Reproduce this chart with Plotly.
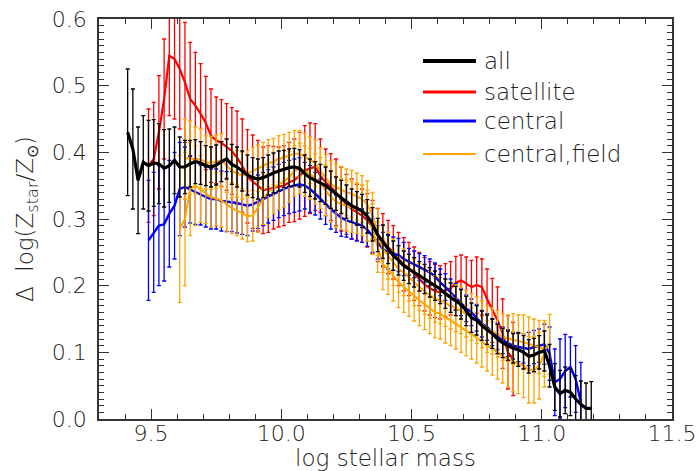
import plotly.graph_objects as go

# ---------------- data ----------------
x_all = [9.41, 9.43, 9.45, 9.47, 9.49, 9.51, 9.53, 9.55, 9.57, 9.59,
         9.61, 9.63, 9.65, 9.67, 9.69, 9.71, 9.73, 9.75, 9.77, 9.79,
         9.81, 9.83, 9.85, 9.87, 9.89, 9.91, 9.93, 9.95, 9.97, 9.99,
         10.01, 10.03, 10.05, 10.07, 10.09, 10.11, 10.13, 10.15, 10.17, 10.19,
         10.21, 10.23, 10.25, 10.27, 10.29, 10.31, 10.33, 10.35, 10.37, 10.39,
         10.41, 10.43, 10.45, 10.47, 10.49, 10.51, 10.53, 10.55, 10.57, 10.59,
         10.61, 10.63, 10.65, 10.67, 10.69, 10.71, 10.73, 10.75, 10.77, 10.79,
         10.81, 10.83, 10.85, 10.87, 10.89, 10.91, 10.93, 10.95, 10.97, 10.99,
         11.01, 11.03, 11.05, 11.07, 11.09, 11.11, 11.13, 11.15, 11.17, 11.19]
y_all = [0.430, 0.405, 0.358, 0.385, 0.380, 0.384, 0.383, 0.376, 0.380, 0.388,
         0.378, 0.378, 0.383, 0.386, 0.384, 0.380, 0.378, 0.381, 0.386, 0.390,
         0.382, 0.378, 0.372, 0.366, 0.362, 0.360, 0.362, 0.366, 0.369, 0.372,
         0.375, 0.377, 0.378, 0.376, 0.368, 0.362, 0.358, 0.354, 0.350, 0.344,
         0.338, 0.333, 0.326, 0.320, 0.316, 0.312, 0.304, 0.292, 0.276, 0.266,
         0.255, 0.245, 0.238, 0.230, 0.225, 0.220, 0.214, 0.210, 0.205, 0.200,
         0.195, 0.188, 0.182, 0.177, 0.172, 0.162, 0.152, 0.148, 0.140, 0.134,
         0.128, 0.120, 0.114, 0.110, 0.106, 0.104, 0.100, 0.094, 0.096, 0.100,
         0.102, 0.080, 0.048, 0.038, 0.043, 0.040, 0.030, 0.022, 0.016, 0.016]
e_all = [0.095, 0.090, 0.080, 0.070, 0.068, 0.065, 0.060, 0.058, 0.055, 0.050,
         0.045, 0.040, 0.035, 0.033, 0.032, 0.030, 0.030, 0.030, 0.030, 0.030,
         0.030, 0.030, 0.030, 0.030, 0.030, 0.030, 0.030, 0.030, 0.030, 0.030,
         0.028, 0.028, 0.028, 0.028, 0.028, 0.028, 0.028, 0.028, 0.028, 0.028,
         0.025, 0.025, 0.025, 0.025, 0.025, 0.025, 0.025, 0.025, 0.025, 0.025,
         0.022, 0.022, 0.022, 0.022, 0.022, 0.022, 0.022, 0.022, 0.022, 0.022,
         0.022, 0.022, 0.022, 0.022, 0.022, 0.022, 0.022, 0.022, 0.022, 0.022,
         0.022, 0.022, 0.022, 0.022, 0.022, 0.025, 0.025, 0.025, 0.025, 0.025,
         0.030, 0.032, 0.035, 0.035, 0.035, 0.035, 0.035, 0.035, 0.038, 0.040]

x_sat = [9.49, 9.51, 9.53, 9.55, 9.57, 9.59, 9.61, 9.63, 9.65, 9.67,
         9.69, 9.71, 9.73, 9.75, 9.77, 9.79, 9.81, 9.83, 9.85, 9.87,
         9.89, 9.91, 9.93, 9.95, 9.97, 9.99, 10.01, 10.03, 10.05, 10.07,
         10.09, 10.11, 10.13, 10.15, 10.17, 10.19, 10.21, 10.23, 10.25, 10.27,
         10.29, 10.31, 10.33, 10.35, 10.37, 10.39, 10.41, 10.43, 10.45, 10.47,
         10.49, 10.51, 10.53, 10.55, 10.57, 10.59, 10.61, 10.63, 10.65, 10.67,
         10.69, 10.71, 10.73, 10.75, 10.77, 10.79, 10.81, 10.83, 10.85, 10.87,
         10.89]
y_sat = [0.380, 0.390, 0.430, 0.480, 0.545, 0.540, 0.525, 0.505, 0.480, 0.470,
         0.458, 0.444, 0.425, 0.418, 0.414, 0.408, 0.402, 0.392, 0.380, 0.364,
         0.356, 0.350, 0.343, 0.345, 0.347, 0.348, 0.350, 0.355, 0.358, 0.365,
         0.372, 0.376, 0.378, 0.365, 0.355, 0.348, 0.340, 0.330, 0.322, 0.315,
         0.310, 0.305, 0.298, 0.288, 0.276, 0.268, 0.258, 0.250, 0.240, 0.232,
         0.225, 0.218, 0.210, 0.202, 0.196, 0.192, 0.190, 0.193, 0.196, 0.204,
         0.208, 0.203, 0.198, 0.201, 0.198, 0.180, 0.163, 0.148, 0.128, 0.100,
         0.090]
e_sat = [0.085, 0.085, 0.085, 0.090, 0.090, 0.090, 0.090, 0.090, 0.085, 0.080,
         0.075, 0.070, 0.070, 0.065, 0.065, 0.065, 0.065, 0.070, 0.070, 0.070,
         0.070, 0.068, 0.065, 0.065, 0.062, 0.060, 0.060, 0.060, 0.062, 0.065,
         0.068, 0.068, 0.065, 0.055, 0.050, 0.050, 0.050, 0.048, 0.045, 0.045,
         0.042, 0.040, 0.040, 0.040, 0.040, 0.040, 0.040, 0.040, 0.040, 0.040,
         0.040, 0.040, 0.040, 0.040, 0.040, 0.040, 0.040, 0.040, 0.040, 0.040,
         0.038, 0.040, 0.040, 0.042, 0.042, 0.045, 0.048, 0.050, 0.052, 0.055,
         0.055]

x_cen = [9.49, 9.51, 9.53, 9.55, 9.57, 9.59, 9.61, 9.63, 9.65, 9.67,
         9.69, 9.71, 9.73, 9.75, 9.77, 9.79, 9.81, 9.83, 9.85, 9.87,
         9.89, 9.91, 9.93, 9.95, 9.97, 9.99, 10.01, 10.03, 10.05, 10.07,
         10.09, 10.11, 10.13, 10.15, 10.17, 10.19, 10.21, 10.23, 10.25, 10.27,
         10.29, 10.31, 10.33, 10.35, 10.37, 10.39, 10.41, 10.43, 10.45, 10.47,
         10.49, 10.51, 10.53, 10.55, 10.57, 10.59, 10.61, 10.63, 10.65, 10.67,
         10.69, 10.71, 10.73, 10.75, 10.77, 10.79, 10.81, 10.83, 10.85, 10.87,
         10.89, 10.91, 10.93, 10.95, 10.97, 10.99, 11.01, 11.03, 11.05, 11.07,
         11.09, 11.11, 11.13, 11.15]
y_cen = [0.268, 0.280, 0.290, 0.292, 0.308, 0.320, 0.345, 0.348, 0.344, 0.340,
         0.336, 0.333, 0.330, 0.330, 0.327, 0.326, 0.326, 0.324, 0.322, 0.320,
         0.322, 0.326, 0.330, 0.334, 0.338, 0.342, 0.345, 0.348, 0.350, 0.352,
         0.350, 0.345, 0.338, 0.330, 0.322, 0.315, 0.308, 0.302, 0.298, 0.295,
         0.292, 0.290, 0.284, 0.275, 0.265, 0.255, 0.250, 0.248, 0.246, 0.240,
         0.236, 0.232, 0.228, 0.225, 0.220, 0.214, 0.205, 0.198, 0.190, 0.183,
         0.175, 0.166, 0.160, 0.152, 0.143, 0.138, 0.130, 0.124, 0.118, 0.114,
         0.110, 0.108, 0.106, 0.105, 0.108, 0.110, 0.112, 0.098, 0.055, 0.060,
         0.072, 0.078, 0.060, 0.025]
e_cen = [0.090, 0.090, 0.090, 0.085, 0.080, 0.080, 0.070, 0.060, 0.050, 0.048,
         0.045, 0.045, 0.045, 0.045, 0.045, 0.045, 0.045, 0.045, 0.045, 0.045,
         0.040, 0.040, 0.040, 0.040, 0.040, 0.040, 0.040, 0.040, 0.040, 0.040,
         0.035, 0.035, 0.032, 0.030, 0.030, 0.030, 0.028, 0.028, 0.025, 0.025,
         0.025, 0.025, 0.025, 0.025, 0.025, 0.025, 0.025, 0.025, 0.025, 0.025,
         0.020, 0.020, 0.020, 0.020, 0.020, 0.020, 0.020, 0.020, 0.020, 0.020,
         0.020, 0.020, 0.020, 0.020, 0.020, 0.020, 0.020, 0.020, 0.020, 0.020,
         0.020, 0.022, 0.022, 0.025, 0.025, 0.025, 0.030, 0.040, 0.050, 0.060,
         0.055, 0.045, 0.050, 0.060]

x_fld = [9.63, 9.65, 9.67, 9.69, 9.71, 9.73, 9.75, 9.77, 9.79, 9.81,
         9.83, 9.85, 9.87, 9.89, 9.91, 9.93, 9.95, 9.97, 9.99, 10.01,
         10.03, 10.05, 10.07, 10.09, 10.11, 10.13, 10.15, 10.17, 10.19, 10.21,
         10.23, 10.25, 10.27, 10.29, 10.31, 10.33, 10.35, 10.37, 10.39, 10.41,
         10.43, 10.45, 10.47, 10.49, 10.51, 10.53, 10.55, 10.57, 10.59, 10.61,
         10.63, 10.65, 10.67, 10.69, 10.71, 10.73, 10.75, 10.77, 10.79, 10.81,
         10.83, 10.85, 10.87, 10.89, 10.91, 10.93, 10.95, 10.97, 10.99, 11.01,
         11.03]
y_fld = [0.390, 0.392, 0.388, 0.390, 0.385, 0.384, 0.386, 0.388, 0.380, 0.372,
         0.368, 0.365, 0.368, 0.372, 0.376, 0.380, 0.384, 0.386, 0.390, 0.392,
         0.395, 0.398, 0.398, 0.393, 0.388, 0.384, 0.372, 0.362, 0.352, 0.348,
         0.344, 0.340, 0.338, 0.334, 0.330, 0.322, 0.305, 0.280, 0.255, 0.245,
         0.235, 0.225, 0.220, 0.212, 0.205, 0.198, 0.192, 0.186, 0.180, 0.178,
         0.174, 0.170, 0.166, 0.163, 0.158, 0.153, 0.148, 0.142, 0.135, 0.132,
         0.128, 0.123, 0.121, 0.120, 0.118, 0.116, 0.113, 0.110, 0.108, 0.104,
         0.112]
e_fld = [0.060, 0.055, 0.050, 0.045, 0.040, 0.040, 0.040, 0.040, 0.040, 0.040,
         0.035, 0.035, 0.035, 0.035, 0.035, 0.035, 0.035, 0.035, 0.035, 0.035,
         0.035, 0.035, 0.035, 0.035, 0.035, 0.035, 0.035, 0.035, 0.035, 0.035,
         0.035, 0.035, 0.035, 0.035, 0.035, 0.035, 0.035, 0.035, 0.035, 0.035,
         0.035, 0.035, 0.035, 0.035, 0.035, 0.035, 0.035, 0.035, 0.035, 0.035,
         0.035, 0.035, 0.035, 0.035, 0.035, 0.035, 0.035, 0.035, 0.035, 0.035,
         0.035, 0.035, 0.035, 0.038, 0.038, 0.040, 0.040, 0.040, 0.040, 0.040,
         0.045]

x_fld2 = [9.61, 9.63, 9.65, 9.67, 9.69, 9.71, 9.73, 9.75, 9.77, 9.79,
          9.81, 9.83, 9.85, 9.87, 9.89, 9.91, 9.93, 9.95, 9.97, 9.99,
          10.01, 10.03, 10.05, 10.07, 10.09, 10.11, 10.13, 10.15, 10.17, 10.19,
          10.21, 10.23, 10.25, 10.27, 10.29, 10.31, 10.33, 10.35, 10.37, 10.39,
          10.41, 10.43, 10.45, 10.47, 10.49, 10.51, 10.53, 10.55, 10.57, 10.59,
          10.61, 10.63, 10.65, 10.67, 10.69, 10.71, 10.73, 10.75, 10.77, 10.79,
          10.81, 10.83, 10.85, 10.87, 10.89, 10.91, 10.93, 10.95, 10.97, 10.99,
          11.01]
y_fld2 = [0.285, 0.300, 0.345, 0.350, 0.345, 0.338, 0.333, 0.330, 0.328, 0.322,
          0.316, 0.313, 0.308, 0.304, 0.305, 0.318, 0.330, 0.340, 0.346, 0.352,
          0.356, 0.363, 0.372, 0.376, 0.372, 0.368, 0.360, 0.354, 0.343, 0.333,
          0.326, 0.322, 0.320, 0.318, 0.316, 0.313, 0.305, 0.285, 0.258, 0.232,
          0.225, 0.215, 0.205, 0.198, 0.192, 0.185, 0.178, 0.172, 0.166, 0.160,
          0.158, 0.152, 0.148, 0.143, 0.138, 0.133, 0.128, 0.122, 0.116, 0.110,
          0.106, 0.100, 0.094, 0.090, 0.086, 0.083, 0.080, 0.074, 0.074, 0.080,
          0.098]
e_fld2 = [0.110, 0.100, 0.070, 0.060, 0.050, 0.045, 0.045, 0.040, 0.040, 0.040,
          0.038, 0.038, 0.038, 0.038, 0.038, 0.038, 0.038, 0.038, 0.038, 0.038,
          0.038, 0.038, 0.038, 0.038, 0.038, 0.038, 0.038, 0.038, 0.038, 0.038,
          0.038, 0.038, 0.038, 0.038, 0.038, 0.038, 0.038, 0.038, 0.038, 0.038,
          0.038, 0.038, 0.038, 0.038, 0.038, 0.038, 0.038, 0.038, 0.038, 0.038,
          0.038, 0.038, 0.038, 0.038, 0.038, 0.038, 0.038, 0.038, 0.038, 0.038,
          0.040, 0.040, 0.040, 0.042, 0.045, 0.045, 0.048, 0.050, 0.050, 0.050,
          0.050]

legend_labels = ["all", "satellite", "central", "central,field"]
legend_colors = ["#000000", "#ff0000", "#0000ff", "#ffa500"]
legend_widths = [4, 3, 3, 2]

x_ticks = [9.5, 10.0, 10.5, 11.0, 11.5]
y_ticks = [0.0, 0.1, 0.2, 0.3, 0.4, 0.5, 0.6]

for a, b, c in [(x_all, y_all, e_all), (x_sat, y_sat, e_sat), (x_cen, y_cen, e_cen),
                (x_fld, y_fld, e_fld), (x_fld2, y_fld2, e_fld2)]:
    assert len(a) == len(b) == len(c), (len(a), len(b), len(c))

# ---------------- figure ----------------
FONT = "'DejaVu Sans', sans-serif"
TXT = "#222222"
AX = "#333333"

fig = go.Figure()


def add(x, y, e, color, lw):
    fig.add_trace(go.Scatter(
        x=x, y=y, mode="lines",
        line=dict(color=color, width=lw),
        error_y=dict(type="data", array=e, visible=True, color=color,
                     thickness=1.3, width=2),
        showlegend=False, hoverinfo="skip"))


add(x_sat, y_sat, e_sat, "#ff0000", 2.2)
add(x_cen, y_cen, e_cen, "#0000ff", 2.4)
add(x_fld2, y_fld2, e_fld2, "#ffa500", 2)
add(x_fld, y_fld, e_fld, "#ffa500", 2)
add(x_all, y_all, e_all, "#000000", 3.2)

# legend drawn in paper coordinates
leg_y = [0.895, 0.8175, 0.745, 0.6625]
for lab, col, w, yy in zip(legend_labels, legend_colors, legend_widths, leg_y):
    fig.add_shape(type="line", xref="paper", yref="paper",
                  x0=0.5654, x1=0.6578, y0=yy, y1=yy,
                  line=dict(color=col, width=w))
    fig.add_annotation(xref="paper", yref="paper", x=0.6686, y=yy,
                       xanchor="left", yanchor="middle", showarrow=False,
                       text=lab,
                       font=dict(family=FONT, size=23, color=TXT, weight=200))

axis_common = dict(
    showline=True, linecolor=AX, linewidth=1.5, mirror="ticks",
    ticks="inside", ticklen=10, tickwidth=1.2, tickcolor=AX,
    showgrid=False, zeroline=False,
    tickfont=dict(family=FONT, size=22, color=TXT, weight=200),
)

fig.update_xaxes(
    range=[9.3, 11.5], tickvals=x_ticks,
    ticktext=[f"{v:.1f}" for v in x_ticks],
    minor=dict(dtick=0.1, tick0=9.3, ticks="inside", ticklen=5,
               tickwidth=1, tickcolor=AX, showgrid=False),
    ticklabelstandoff=-6,
    title=dict(text="log stellar mass", standoff=8,
               font=dict(family=FONT, size=23, color=TXT, weight=200)),
    **axis_common)

fig.update_yaxes(
    range=[0, 0.6], tickvals=y_ticks,
    ticktext=[f"{v:.1f}" for v in y_ticks],
    minor=dict(dtick=0.01, tick0=0, ticks="inside", ticklen=5,
               tickwidth=1, tickcolor=AX, showgrid=False),
    ticklabelstandoff=6,
    title=dict(text="Δ  log(Z<sub>star</sub>/Z<sub>⊙</sub>)", standoff=12,
               font=dict(family=FONT, size=23, color=TXT, weight=200)),
    **axis_common)

fig.update_layout(
    width=700, height=471,
    margin=dict(l=99, r=28, t=19, b=52, autoexpand=False),
    paper_bgcolor="white", plot_bgcolor="white",
    showlegend=False,
)

fig.write_html("out.html")
